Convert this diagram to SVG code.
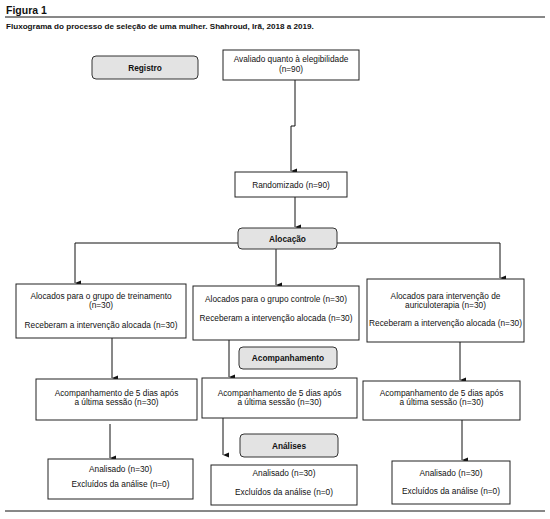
<svg xmlns="http://www.w3.org/2000/svg" width="550" height="519" viewBox="0 0 550 519">
<defs>
<marker id="ah" markerUnits="userSpaceOnUse" markerWidth="6" markerHeight="6" viewBox="0 0 6 6" refX="3" refY="6" orient="auto-start-reverse">
<path d="M0.5,0 L5.5,0 L3,6 Z" fill="#111"/>
</marker>
<style>
text{font-family:"Liberation Sans",Arial,sans-serif;font-size:8.3px;fill:#111;text-anchor:middle}
.b{font-weight:bold}
.box{fill:#fff;stroke:#222;stroke-width:1}
.lbl{fill:#e3e3e3;stroke:#333;stroke-width:1}
.ln{fill:none;stroke:#111;stroke-width:1}
.ar{fill:none;stroke:#111;stroke-width:1;marker-end:url(#ah)}
</style>
</defs>
<rect width="550" height="519" fill="#fff"/>
<g id="header">
<text x="6" y="14" class="b" style="text-anchor:start;font-size:10.5px">Figura 1</text>
<line x1="5" y1="17" x2="545" y2="17" stroke="#111" stroke-width="1"/>
<text x="6" y="29" class="b" style="text-anchor:start;font-size:8.1px">Fluxograma do processo de seleção de uma mulher. Shahroud, Irã, 2018 a 2019.</text>
</g>
<g id="connectors">
<path class="ar" d="M295,80 V126 H291 V171"/>
<path class="ar" d="M295,197 V227"/>
<path class="ln" d="M75,243 H238 M337,243 H500"/>
<path class="ar" d="M75,243 V283"/>
<path class="ar" d="M500,243 V278"/>
<path class="ar" d="M276,249 V285"/>
<path class="ar" d="M112,338 V378"/>
<path class="ar" d="M229,340 V377"/>
<path class="ar" d="M460,342 V380"/>
<path class="ar" d="M110,424 V458"/>
<path class="ar" d="M223,418 V455"/>
<path class="ar" d="M462,420 V460"/>
</g>
<g id="registro">
<rect class="lbl" x="92" y="56" width="106" height="23" rx="4"/>
<text x="145" y="70.5" class="b">Registro</text>
</g>
<g id="avaliado">
<rect class="box" x="223" y="50" width="136" height="30"/>
<text x="291" y="62">Avaliado quanto à elegibilidade</text>
<text x="291" y="72">(n=90)</text>
</g>
<g id="randomizado">
<rect class="box" x="235" y="172" width="112" height="25"/>
<text x="291" y="187.5">Randomizado (n=90)</text>
</g>
<g id="alocacao">
<rect class="lbl" x="238" y="228" width="99" height="21" rx="4"/>
<text x="287.5" y="241.5" class="b">Alocação</text>
</g>
<g id="treinamento">
<rect class="box" x="16" y="284" width="170" height="54"/>
<text x="101" y="298.5">Alocados para o grupo de treinamento</text>
<text x="101" y="307.5">(n=30)</text>
<text x="101" y="328">Receberam a intervenção alocada (n=30)</text>
</g>
<g id="controle">
<rect class="box" x="193" y="286" width="166" height="54"/>
<text x="276" y="301.5">Alocados para o grupo controle (n=30)</text>
<text x="276" y="321">Receberam a intervenção alocada (n=30)</text>
</g>
<g id="auriculoterapia">
<rect class="box" x="367" y="279" width="157" height="63"/>
<text x="445.5" y="298.5">Alocados para intervenção de</text>
<text x="445.5" y="307.5">auriculoterapia (n=30)</text>
<text x="445.5" y="326">Receberam a intervenção alocada (n=30)</text>
</g>
<g id="acompanhamento-label">
<rect class="lbl" x="239" y="347" width="98" height="22" rx="4"/>
<text x="288" y="361" class="b">Acompanhamento</text>
</g>
<g id="acomp-1">
<rect class="box" x="36" y="379" width="161" height="41"/>
<text x="116.5" y="395.5">Acompanhamento de 5 dias após</text>
<text x="116.5" y="404.5">a última sessão (n=30)</text>
</g>
<g id="acomp-2">
<rect class="box" x="202" y="378" width="155" height="40"/>
<text x="279.5" y="395.5">Acompanhamento de 5 dias após</text>
<text x="279.5" y="404.5">a última sessão (n=30)</text>
</g>
<g id="acomp-3">
<rect class="box" x="363" y="381" width="157" height="39"/>
<text x="441.5" y="395.5">Acompanhamento de 5 dias após</text>
<text x="441.5" y="404.5">a última sessão (n=30)</text>
</g>
<g id="analises-label">
<rect class="lbl" x="240" y="434" width="98" height="23" rx="4"/>
<text x="289" y="448.5" class="b">Análises</text>
</g>
<g id="analisado-1">
<rect class="box" x="48" y="459" width="145" height="40"/>
<text x="120.5" y="472">Analisado (n=30)</text>
<text x="120.5" y="487">Excluídos da análise (n=0)</text>
</g>
<g id="analisado-2">
<rect class="box" x="211" y="465" width="146" height="40"/>
<text x="284" y="476">Analisado (n=30)</text>
<text x="284" y="495">Excluídos da análise (n=0)</text>
</g>
<g id="analisado-3">
<rect class="box" x="392" y="461" width="118" height="43"/>
<text x="451" y="476">Analisado (n=30)</text>
<text x="451" y="494">Excluídos da análise (n=0)</text>
</g>
<line x1="5" y1="511" x2="545" y2="511" stroke="#111" stroke-width="1"/>
</svg>
